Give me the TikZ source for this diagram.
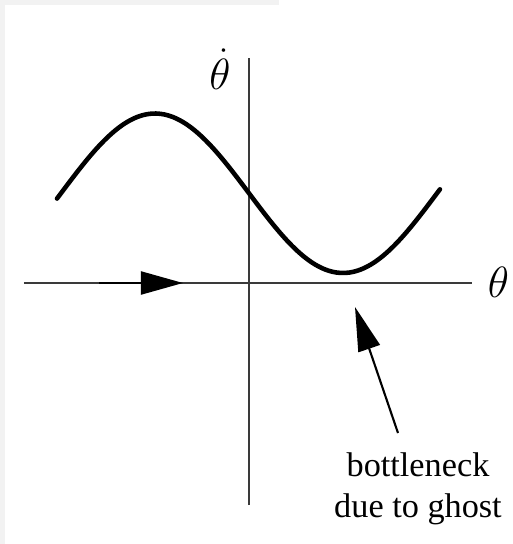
\documentclass[tikz,border=0pt]{standalone}
\usepackage{fontspec}
\setmainfont{Liberation Serif}
\usepackage{tikz}
\usetikzlibrary{arrows.meta, positioning}
\definecolor{kedge}{HTML}{F2F2F2}
\definecolor{kaxis}{HTML}{3A3A3A}

\begin{document}
\begin{tikzpicture}[x=1cm, y=1cm,
  axisline/.style={kaxis, line width=1.1pt},
  bigarrow/.style={-{Triangle[length=0.88cm, width=0.45cm]}, line width=1.2pt},
  lbl/.style={font=\fontsize{19.5}{22.8}\selectfont},
  mathlbl/.style={font=\fontsize{24}{28}\selectfont, inner sep=1pt}]
\useasboundingbox (-4.98,-5.22) rectangle (5.28,5.66);
\fill[kedge] (-4.98,-5.22) rectangle (-4.88,5.66);
\fill[kedge] (-4.98,5.56) rectangle (0.6,5.66);
% axes
\draw[axisline] (-4.50,0) -- (4.46,0);
\draw[axisline] (0,-4.44) -- (0,4.50);
\node[mathlbl] (th) at (4.99,0.02) {$\theta$};
\node[mathlbl] (thdot) at (-0.58,4.28) {$\dot{\theta}$};
% flow on the line
\draw[bigarrow, -{Triangle[length=0.84cm, width=0.46cm]}] (-3.0,0) -- (-1.32,0);
% the curve
\draw[line width=2.6pt, line cap=round]
  plot[domain=-3.84:3.82, samples=90, smooth] (\x, {1.795 + 1.595*sin(-\x/7.52*360)});
% bottleneck
\coordinate (bneck) at (2.12,-0.48);
\coordinate (tail) at (2.98,-3.0);
\draw[bigarrow] (tail) -- (bneck);
\node[lbl, align=center, anchor=base] (note) at (3.38,-4.68) {bottleneck\\due to ghost};
\end{tikzpicture}
\end{document}
